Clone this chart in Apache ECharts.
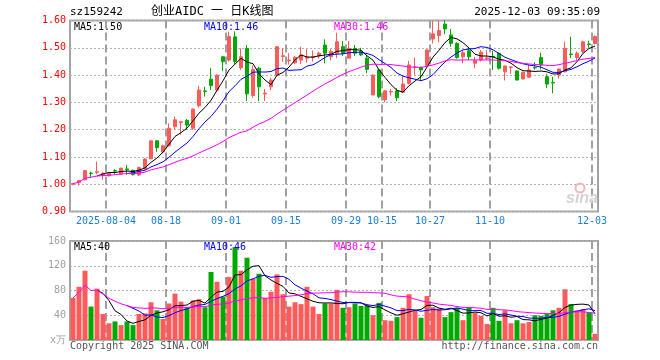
<!DOCTYPE html>
<html><head><meta charset="utf-8">
<script src="https://cdn.jsdelivr.net/npm/echarts@6/dist/echarts.min.js"></script>
<style>html,body{margin:0;padding:0;background:#fff}#c{width:660px;height:360px}</style>
</head><body><div id="c"></div>
<script>
// ---- data ----
const dates = ['07-25','07-28','07-29','07-30','07-31','08-01','08-04','08-05','08-06','08-07',
'08-08','08-11','08-12','08-13','08-14','08-15','08-18','08-19','08-20','08-21',
'08-22','08-25','08-26','08-27','08-28','08-29','09-01','09-02','09-03','09-04',
'09-05','09-08','09-09','09-10','09-11','09-12','09-15','09-16','09-17','09-18',
'09-19','09-22','09-23','09-24','09-25','09-26','09-29','09-30','10-09','10-10',
'10-13','10-14','10-15','10-16','10-17','10-20','10-21','10-22','10-23','10-24',
'10-27','10-28','10-29','10-30','10-31','11-03','11-04','11-05','11-06','11-07',
'11-10','11-11','11-12','11-13','11-14','11-17','11-18','11-19','11-20','11-21',
'11-24','11-25','11-26','11-27','11-28','12-01','12-02','12-03'];
const opens = [1.000,1.006,1.016,1.041,1.044,1.032,1.031,1.050,1.037,1.056,
1.051,1.034,1.056,1.093,1.159,1.118,1.141,1.211,1.226,1.234,
1.205,1.288,1.342,1.385,1.345,1.467,1.455,1.540,1.427,1.498,
1.325,1.425,1.331,1.357,1.400,1.468,1.452,1.445,1.455,1.462,
1.465,1.470,1.510,1.467,1.480,1.504,1.462,1.498,1.486,1.462,
1.327,1.419,1.309,1.338,1.342,1.337,1.370,1.428,1.429,1.434,
1.532,1.545,1.587,1.547,1.516,1.467,1.489,1.443,1.455,1.460,
1.468,1.480,1.412,1.428,1.415,1.386,1.392,1.428,1.464,1.394,
1.373,1.400,1.412,1.477,1.464,1.486,1.514,1.516];
const closes = [1.002,1.013,1.050,1.039,1.046,1.040,1.040,1.048,1.059,1.053,
1.035,1.061,1.092,1.159,1.134,1.141,1.205,1.236,1.229,1.217,
1.275,1.345,1.340,1.361,1.400,1.449,1.541,1.450,1.467,1.331,
1.420,1.357,1.334,1.382,1.504,1.471,1.455,1.465,1.474,1.466,
1.468,1.480,1.480,1.486,1.522,1.480,1.498,1.480,1.474,1.421,
1.400,1.321,1.342,1.340,1.317,1.367,1.437,1.430,1.419,1.492,
1.551,1.563,1.569,1.516,1.464,1.482,1.467,1.453,1.484,1.463,
1.466,1.425,1.433,1.430,1.382,1.410,1.419,1.426,1.437,1.367,
1.371,1.422,1.498,1.475,1.480,1.522,1.512,1.541];
const lows = [0.996,0.995,1.014,1.022,1.037,1.016,1.028,1.037,1.035,1.034,
1.032,1.030,1.054,1.092,1.119,1.113,1.139,1.199,1.181,1.199,
1.199,1.281,1.321,1.345,1.340,1.415,1.450,1.440,1.419,1.305,
1.317,1.305,1.305,1.345,1.395,1.449,1.438,1.440,1.440,1.445,
1.450,1.460,1.443,1.455,1.462,1.470,1.460,1.470,1.470,1.407,
1.327,1.315,1.300,1.325,1.305,1.335,1.365,1.400,1.382,1.432,
1.516,1.520,1.550,1.504,1.460,1.443,1.455,1.425,1.450,1.455,
1.419,1.420,1.380,1.405,1.380,1.384,1.390,1.420,1.421,1.352,
1.333,1.388,1.410,1.462,1.455,1.480,1.500,1.512];
const highs = [1.004,1.014,1.052,1.046,1.083,1.044,1.042,1.055,1.060,1.071,
1.053,1.065,1.095,1.160,1.160,1.145,1.223,1.248,1.232,1.239,
1.278,1.360,1.357,1.425,1.402,1.470,1.559,1.560,1.498,1.510,
1.435,1.430,1.349,1.390,1.505,1.498,1.480,1.470,1.504,1.495,
1.490,1.485,1.531,1.495,1.555,1.525,1.525,1.510,1.500,1.474,
1.402,1.422,1.345,1.349,1.352,1.398,1.452,1.464,1.430,1.494,
1.598,1.600,1.602,1.569,1.520,1.492,1.500,1.467,1.492,1.492,
1.489,1.482,1.435,1.432,1.417,1.413,1.440,1.447,1.482,1.403,
1.394,1.425,1.522,1.541,1.487,1.526,1.526,1.546];
const volumes = [68,86,112,54,83,42,27,30,24,30,
24,42,43,61,48,34,59,75,62,53,
64,66,53,110,94,70,102,150,112,133,
99,107,68,78,106,74,54,61,58,86,
54,42,59,59,81,52,53,59,55,56,
40,60,32,31,37,52,74,47,36,71,
53,51,37,45,52,32,53,44,39,26,
52,31,48,27,32,27,29,40,39,42,
48,52,82,58,48,50,45,10];
const tickIdx = [6,16,26,36,46,52,60,70,87];
const tickLabels = ['2025-08-04','08-18','09-01','09-15','09-29','10-15','10-27','11-10','12-03'];
const priceMaLabels = ['MA5:1.50','MA10:1.46','MA30:1.46'];
const volMaLabels = ['MA5:40','MA10:46','MA30:42'];
const headerCode = 'sz159242';
const headerTitle = '创业AIDC 一 日K线图';
const headerTime = '2025-12-03 09:35:09';

// ---- build ----
const RED = '#ff5a5a', GREEN = '#00a800';
const MA_COLORS = ['#000000', '#0000ff', '#ff00ff'];
const mono = "'DejaVu Sans Mono', 'Liberation Mono', monospace";
function ma(arr, n, partial) {
  return arr.map((v, i) => {
    if (i < n - 1 && !partial) return null;
    const s = Math.max(0, i - n + 1);
    let sum = 0;
    for (let j = s; j <= i; j++) sum += arr[j];
    return +(sum / (i - s + 1)).toFixed(4);
  });
}
const ohlc = opens.map((o, i) => [o, closes[i], lows[i], highs[i]]);
const volData = volumes.map((v, i) => ({ value: v, itemStyle: { color: closes[i] >= opens[i] ? RED : GREEN } }));
const periods = [5, 10, 30];
const isTick = (i) => tickIdx.indexOf(i) >= 0;

const gridLine = { color: '#b4b4b4', type: [2, 2], width: 1 };
const sepStyle = { color: '#a0a0a0', width: 2, type: 'dashed' };

function xAx(g, labels) {
  return {
    type: 'category', gridIndex: g, data: dates, boundaryGap: true,
    axisLine: { show: false }, axisTick: { show: false },
    axisLabel: labels ? {
      interval: (i) => isTick(i), formatter: (v, i) => tickLabels[tickIdx.indexOf(i)],
      color: '#1b7fd4', fontFamily: mono, fontSize: 10, margin: 5, padding: [0, 6, 0, 0]
    } : { show: false },
    splitLine: { show: true, interval: (i) => isTick(i), lineStyle: sepStyle }
  };
}

const series = [
  { type: 'candlestick', xAxisIndex: 0, yAxisIndex: 0, data: ohlc, barWidth: 4, z: 3,
    itemStyle: { color: RED, color0: GREEN, borderColor: RED, borderColor0: GREEN, borderWidth: 1 } }
];
periods.forEach((p, k) => series.push({ type: 'line', xAxisIndex: 0, yAxisIndex: 0, data: ma(closes, p, p === 30),
  symbol: 'none', showSymbol: false, lineStyle: { color: MA_COLORS[k], width: 1 }, z: 5 }));
series.push({ type: 'bar', xAxisIndex: 1, yAxisIndex: 1, data: volData, barWidth: 5, z: 3 });
periods.forEach((p, k) => series.push({ type: 'line', xAxisIndex: 1, yAxisIndex: 1, data: ma(volumes, p, p === 30),
  symbol: 'none', showSymbol: false, lineStyle: { color: MA_COLORS[k], width: 1 }, z: 5 }));

function txt(text, x, y, color, opts) {
  return Object.assign({ type: 'text', x: x, y: y, z: 100,
    style: Object.assign({ text: text, fill: color, fontFamily: mono, fontSize: 10, align: 'left', verticalAlign: 'middle' }, (opts || {})) });
}
const maX = [74, 204, 334];
const graphics = [
  txt(headerCode, 70, 12, '#000', { fontSize: 11 }),
  txt(headerTitle, 151, 12, '#000', { fontFamily: "'DejaVu Sans Mono','Noto Sans CJK SC'", fontSize: 12 }),
  txt(headerTime, 600, 12, '#000', { align: 'right', fontSize: 11 }),
  txt('Copyright 2025 SINA.COM', 70, 346, '#555'),
  txt('http://finance.sina.com.cn', 598, 346, '#555', { align: 'right' }),
  { type: 'circle', shape: { cx: 580, cy: 188, r: 4.5 }, style: { fill: 'none', stroke: '#f2b4b4', lineWidth: 2 }, z: 1 },
  txt('sina', 582, 199, '#d4d4d4', { fontFamily: 'Arial, sans-serif', fontSize: 16, fontWeight: 'bold', fontStyle: 'italic', align: 'center' })
];
priceMaLabels.forEach((t, k) => graphics.push(txt(t, maX[k], 27, MA_COLORS[k])));
volMaLabels.forEach((t, k) => graphics.push(txt(t, maX[k], 247, MA_COLORS[k])));

const option = {
  animation: false,
  backgroundColor: '#fff',
  grid: [
    { left: 70, top: 20.5, width: 528, height: 191, show: true, borderColor: '#a4a4a4', borderWidth: 2 },
    { left: 70, top: 241, width: 528, height: 99, show: true, borderColor: '#a4a4a4', borderWidth: 2 }
  ],
  xAxis: [xAx(0, true), xAx(1, false)],
  yAxis: [
    { type: 'value', gridIndex: 0, min: 0.9, max: 1.6, interval: 0.1,
      axisLine: { show: false }, axisTick: { show: false },
      axisLabel: { color: '#ff0000', fontFamily: mono, fontSize: 10, margin: 4, formatter: (v) => v.toFixed(2) },
      splitLine: { show: true, lineStyle: gridLine } },
    { type: 'value', gridIndex: 1, min: 0, max: 160, interval: 40,
      axisLine: { show: false }, axisTick: { show: false },
      axisLabel: { color: '#a0a0a0', fontFamily: mono, fontSize: 10, margin: 4, formatter: (v) => v === 0 ? 'x万' : String(v) },
      splitLine: { show: true, lineStyle: gridLine } }
  ],
  series: series,
  graphic: graphics
};
const chart = echarts.init(document.getElementById('c'), null, { renderer: 'canvas', width: 660, height: 360 });
chart.setOption(option);
</script>
</body></html>
